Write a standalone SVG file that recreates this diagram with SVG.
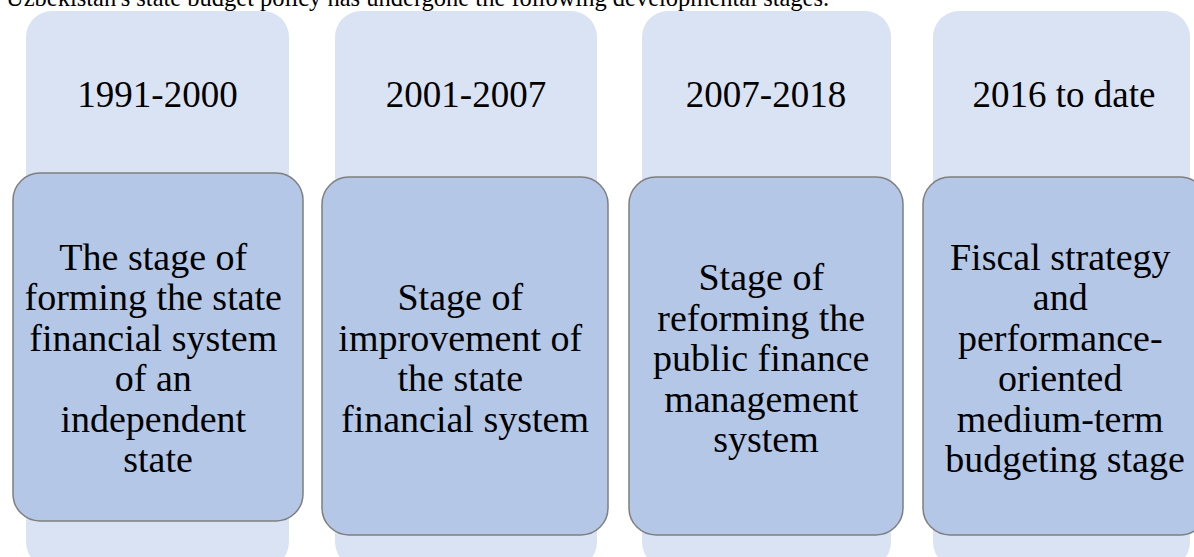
<svg xmlns="http://www.w3.org/2000/svg" width="1194" height="557" viewBox="0 0 1194 557">
  <style>
    .col { fill: #DAE3F3; }
    .box { fill: #B4C7E7; stroke: #7F7F7F; stroke-width: 1.5; }
    .title { font-family: "Liberation Serif", "Times New Roman", serif; font-size: 24.5px; fill: #000; }
    .year { font-family: "Liberation Serif", "Times New Roman", serif; font-size: 37px; fill: #000; text-anchor: middle; }
    .stage { font-family: "Liberation Serif", "Times New Roman", serif; font-size: 38px; fill: #000; text-anchor: middle; }
  </style>
  <rect width="1194" height="557" fill="#FFFFFF"/>

  <text class="title" x="6" y="6">Uzbekistan's state budget policy has undergone the following developmental stages.</text>

  <g id="stage-1991-2000">
    <rect class="col" x="26" y="11" width="263" height="557" rx="26"/>
    <text class="year" x="157.5" y="107">1991-2000</text>
    <rect class="box" x="13" y="173" width="290" height="348" rx="27"/>
    <text class="stage" x="158">
      <tspan x="158" y="269.75">The stage of</tspan>
      <tspan x="158" y="310.25">forming the state</tspan>
      <tspan x="158" y="350.75">financial system</tspan>
      <tspan x="158" y="391.25">of an</tspan>
      <tspan x="158" y="431.75">independent</tspan>
      <tspan x="158" y="472.25">state</tspan>
    </text>
  </g>

  <g id="stage-2001-2007">
    <rect class="col" x="335" y="11" width="262" height="557" rx="26"/>
    <text class="year" x="466" y="107">2001-2007</text>
    <rect class="box" x="322" y="177" width="286" height="358" rx="27"/>
    <text class="stage" x="465">
      <tspan x="465" y="310.25">Stage of</tspan>
      <tspan x="465" y="350.75">improvement of</tspan>
      <tspan x="465" y="391.25">the state</tspan>
      <tspan x="465" y="431.75">financial system</tspan>
    </text>
  </g>

  <g id="stage-2007-2018">
    <rect class="col" x="642" y="11" width="249" height="557" rx="26"/>
    <text class="year" x="766" y="107">2007-2018</text>
    <rect class="box" x="629" y="177" width="274" height="358" rx="27"/>
    <text class="stage" x="766">
      <tspan x="766" y="290">Stage of</tspan>
      <tspan x="766" y="330.5">reforming the</tspan>
      <tspan x="766" y="371">public finance</tspan>
      <tspan x="766" y="411.5">management</tspan>
      <tspan x="766" y="452">system</tspan>
    </text>
  </g>

  <g id="stage-2016-to-date">
    <rect class="col" x="933" y="11" width="257" height="557" rx="26"/>
    <text class="year" x="1064" y="107">2016 to date</text>
    <rect class="box" x="923" y="177" width="284" height="358" rx="27"/>
    <text class="stage" x="1065">
      <tspan x="1065" y="269.75">Fiscal strategy</tspan>
      <tspan x="1065" y="310.25">and</tspan>
      <tspan x="1065" y="350.75">performance-</tspan>
      <tspan x="1065" y="391.25">oriented</tspan>
      <tspan x="1065" y="431.75">medium-term</tspan>
      <tspan x="1065" y="472.25">budgeting stage</tspan>
    </text>
  </g>

  <g id="connectors"/>
</svg>
